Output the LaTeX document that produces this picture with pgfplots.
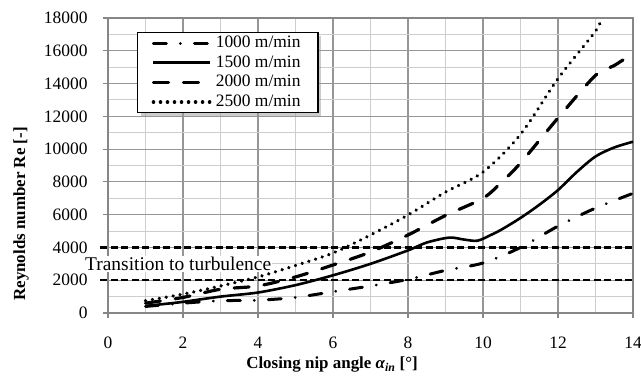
\documentclass[border=0pt]{standalone}
\usepackage{pgfplots}
\pgfplotsset{compat=1.18}
\usepackage{fontspec}
\setmainfont{Liberation Serif}
\usetikzlibrary{shadows}
\makeatletter
\tikzset{noshadow/.code={\let\tikz@preactions\pgfutil@empty}}
\makeatother

\definecolor{majgrid}{RGB}{150,150,150}
\definecolor{mingrid}{RGB}{205,205,205}
\definecolor{axcol}{RGB}{134,134,134}

\begin{document}
\begin{tikzpicture}
\path[use as bounding box] (-108bp,-66bp) rectangle (533bp,313bp);
\begin{axis}[
  scale only axis, width=525bp, height=295bp,
  xmin=0, xmax=14, ymin=0, ymax=18000,
  xtick={0,2,...,14}, minor xtick={1,3,...,13},
  ytick={0,2000,...,18000}, minor ytick={1000,3000,...,17000},
  grid=both,
  major grid style={draw=majgrid, line width=1.1bp},
  minor grid style={draw=mingrid, line width=0.9bp},
  axis line style={draw=axcol, line width=1.2bp},
  tick style={draw=axcol, line width=1.2bp},
  major tick length=5bp, minor tick length=0bp,
  tick align=outside, tick pos=left,
  scaled y ticks=false,
  /pgf/number format/1000 sep={},
  /pgf/number format/assume math mode=true,
  ticklabel style={font=\fontsize{17.5}{20}\selectfont},
  xticklabel style={anchor=base, yshift=-30bp},
  yticklabel style={anchor=east, xshift=-12bp},
  xlabel={\bfseries Closing nip angle {\itshape α}\textsubscript{\itshape in} [°]},
  ylabel={\bfseries Reynolds number Re [-]},
  label style={font=\fontsize{17}{20}\selectfont},
  xlabel style={at={(axis description cs:0.4267,-0.176)}, anchor=center},
  ylabel style={at={(axis description cs:-0.1657,0.336)}, anchor=center},
  clip=false,
  legend cell align=left,
  legend image code/.code={\draw[#1,noshadow] (0bp,0bp) -- (57bp,0bp);},
  legend style={at={(axis description cs:0.0552,0.9525)}, anchor=north west,
    draw=black, line width=1.4bp, fill=white,
    font=\fontsize{17.5}{20}\selectfont,
    inner xsep=14bp, inner ysep=0.5bp, row sep=0pt,
    drop shadow={shadow xshift=3bp, shadow yshift=-3bp, fill=black!40},
    nodes={inner xsep=3.5bp, inner ysep=1.85bp, text height=12.5bp, text depth=3.5bp}},
]
% 1000 m/min
\addplot[black, line width=3bp, line cap=round, dash pattern=on 13bp off 14bp on 0.01bp off 14bp, smooth]
 coordinates {(1,400) (2,600) (3,750) (4,780) (5,950) (6,1300) (7,1650) (8,2050) (9,2600) (10,3050) (11,4000) (12,5300) (13,6400) (14,7300)};
\addlegendentry{1000 m/min}
% 1500 m/min
\addplot[black, line width=2.6bp, smooth]
 coordinates {(1,430) (1.5,550) (2,680) (3,1000) (4,1250) (5,1700) (6,2300) (7,3000) (8,3820) (8.5,4300) (9.1,4600) (9.5,4480) (9.85,4410) (10.2,4750) (10.5,5100) (11,5800) (11.5,6600) (12,7500) (12.5,8600) (13,9550) (13.5,10100) (14,10450)};
\addlegendentry{1500 m/min}
% 2000 m/min
\addplot[black, line width=3.2bp, line cap=round, dash pattern=on 15bp off 15bp, smooth]
 coordinates {(1,600) (2,950) (3,1450) (4,1650) (5,2200) (6,2930) (7,3720) (8,4760) (9,5950) (10,7000) (10.5,8000) (11,9150) (12,11900) (13,14500) (13.5,15100) (14,15850)};
\addlegendentry{2000 m/min}
% 2500 m/min
\addplot[black, line width=3.6bp, line cap=round, dash pattern=on 0.01bp off 7bp, smooth]
 coordinates {(1,750) (2,1150) (3,1650) (4,2200) (5,2900) (6,3660) (7,4760) (8,5980) (9,7380) (10,8600) (11,10900) (12,14300) (13,17200) (13.15,18000)};
\addlegendentry{2500 m/min}
% transition lines
\addplot[black, line width=2.2bp, dash pattern=on 7bp off 3.5bp, forget plot] coordinates {(-0.21,4000) (14,4000)};
\addplot[black, line width=2.2bp, dash pattern=on 7bp off 3.5bp, forget plot] coordinates {(-0.21,2000) (14,2000)};
\node[fill=white, inner sep=1bp, anchor=west, font=\fontsize{19.5}{22}\selectfont] at (axis cs:-0.64,3000) {Transition to turbulence};
\end{axis}
\end{tikzpicture}
\end{document}
